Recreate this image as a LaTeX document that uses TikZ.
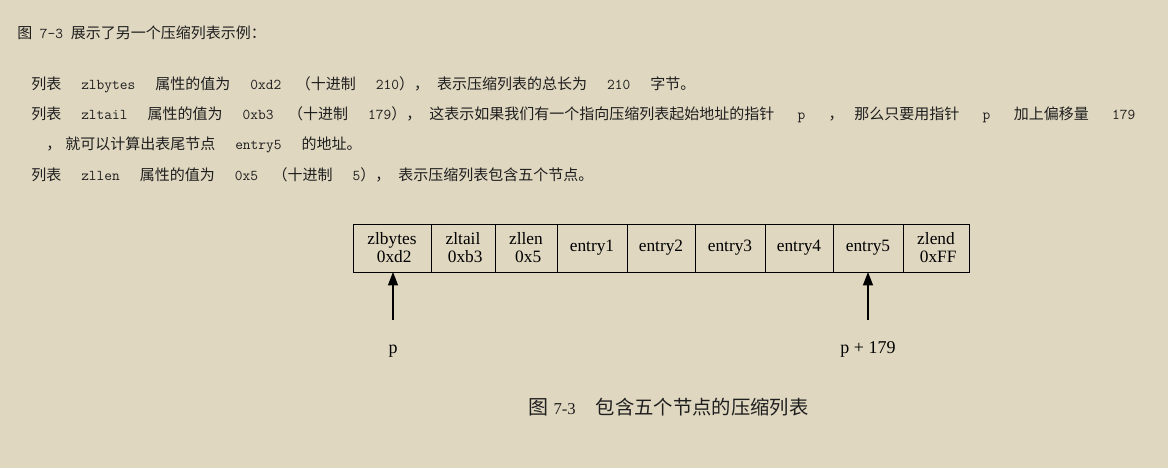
\documentclass[tikz,border=0pt]{standalone}
\usepackage{fontspec}
\setmainfont{Liberation Serif}
\newfontfamily\cjk{Noto Sans CJK SC}
\usetikzlibrary{arrows.meta,positioning}
\definecolor{pagebg}{RGB}{223,215,192}
\definecolor{inkgray}{RGB}{30,30,30}
\newcommand{\g}{\hspace{15pt}}
\newcommand{\gw}{\hspace{17.5pt}}

\tikzset{
  cell/.style={draw, line width=0.7pt, outer sep=0pt, inner sep=0pt,
    minimum height=36pt, align=center,
    font=\fontsize{13}{13.5}\selectfont},
  bodyline/.style={anchor=west, inner sep=0pt, text=inkgray,
    font=\cjk\fontsize{11.25}{13}\selectfont},
  ptr/.style={-{Triangle[length=10pt,width=7.5pt]}, line width=0.8pt},
  plabel/.style={anchor=base, inner sep=0pt, font=\fontsize{13.5}{15}\selectfont},
}

\begin{document}
\begin{tikzpicture}[x=0.75pt, y=-0.75pt]
    \fill[pagebg] (0,0) rectangle (1168,468);
    % text above the figure
    \node[bodyline] (intro) at (17,33) {图\texttt{ 7-3 }展示了另一个压缩列表示例：};
    \node[bodyline] (lineA) at (31,85)
         {列表\g{}\texttt{zlbytes}\g{}属性的值为\g{}\texttt{0xd2}\hspace{11pt}（十进制\g{}\texttt{210}），\hspace{6pt}表示压缩列表的总长为\g{}\texttt{210}\g{}字节。};
    \node[bodyline] (lineB) at (31,115)
         {列表\g{}\texttt{zltail}\g{}属性的值为\g{}\texttt{0xb3}\hspace{11pt}（十进制\g{}\texttt{179}），\hspace{6pt}这表示如果我们有一个指向压缩列表起始地址的指针\gw{}\texttt{p}\gw{}，\hspace{8pt}那么只要用指针\gw{}\texttt{p}\gw{}加上偏移量\gw{}\texttt{179}};
    \node[bodyline] (lineC) at (46,145)
         {，\hspace{3pt}就可以计算出表尾节点\g{}\texttt{entry5}\g{}的地址。};
    \node[bodyline] (lineD) at (31,175)
         {列表\g{}\texttt{zllen}\g{}属性的值为\g{}\texttt{0x5}\hspace{11pt}（十进制\g{}\texttt{5}），\hspace{6pt}表示压缩列表包含五个节点。};
    % the ziplist cells
    \node[cell, minimum width=58.5pt] (zlbytes) at (392,248) {zlbytes\\\ 0xd2};
    \node[cell, minimum width=48pt, right=0pt of zlbytes] (zltail) {zltail\\\ 0xb3};
    \node[cell, minimum width=46.5pt, right=0pt of zltail] (zllen) {zllen\\\ 0x5};
    \node[cell, minimum width=52.5pt, right=0pt of zllen] (entry1) {entry1};
    \node[cell, minimum width=51pt, right=0pt of entry1] (entry2) {entry2};
    \node[cell, minimum width=52.5pt, right=0pt of entry2] (entry3) {entry3};
    \node[cell, minimum width=51pt, right=0pt of entry3] (entry4) {entry4};
    \node[cell, minimum width=52.5pt, right=0pt of entry4] (entry5) {entry5};
    \node[cell, minimum width=49.5pt, right=0pt of entry5] (zlend) {zlend\\\ 0xFF};
    % pointers
    \coordinate (pstart) at (393,320);
    \coordinate (qstart) at (868,320);
    \draw[ptr] (pstart) -- (pstart |- zlbytes.south);
    \draw[ptr] (qstart) -- (qstart |- entry5.south);
    \node[plabel] (plab) at (393,353) {p};
    \node[plabel] (qlab) at (868,353) {p + 179};
    % caption
    \node[anchor=west, inner sep=0pt, text=inkgray] (caption) at (528,407)
         {{\cjk\fontsize{15}{17}\selectfont 图}\hspace{4pt}{\fontsize{12.5}{15}\selectfont 7-3}\hspace{15pt}{\cjk\fontsize{14.5}{17}\selectfont 包含五个节点的压缩列表}};
\end{tikzpicture}
\end{document}
